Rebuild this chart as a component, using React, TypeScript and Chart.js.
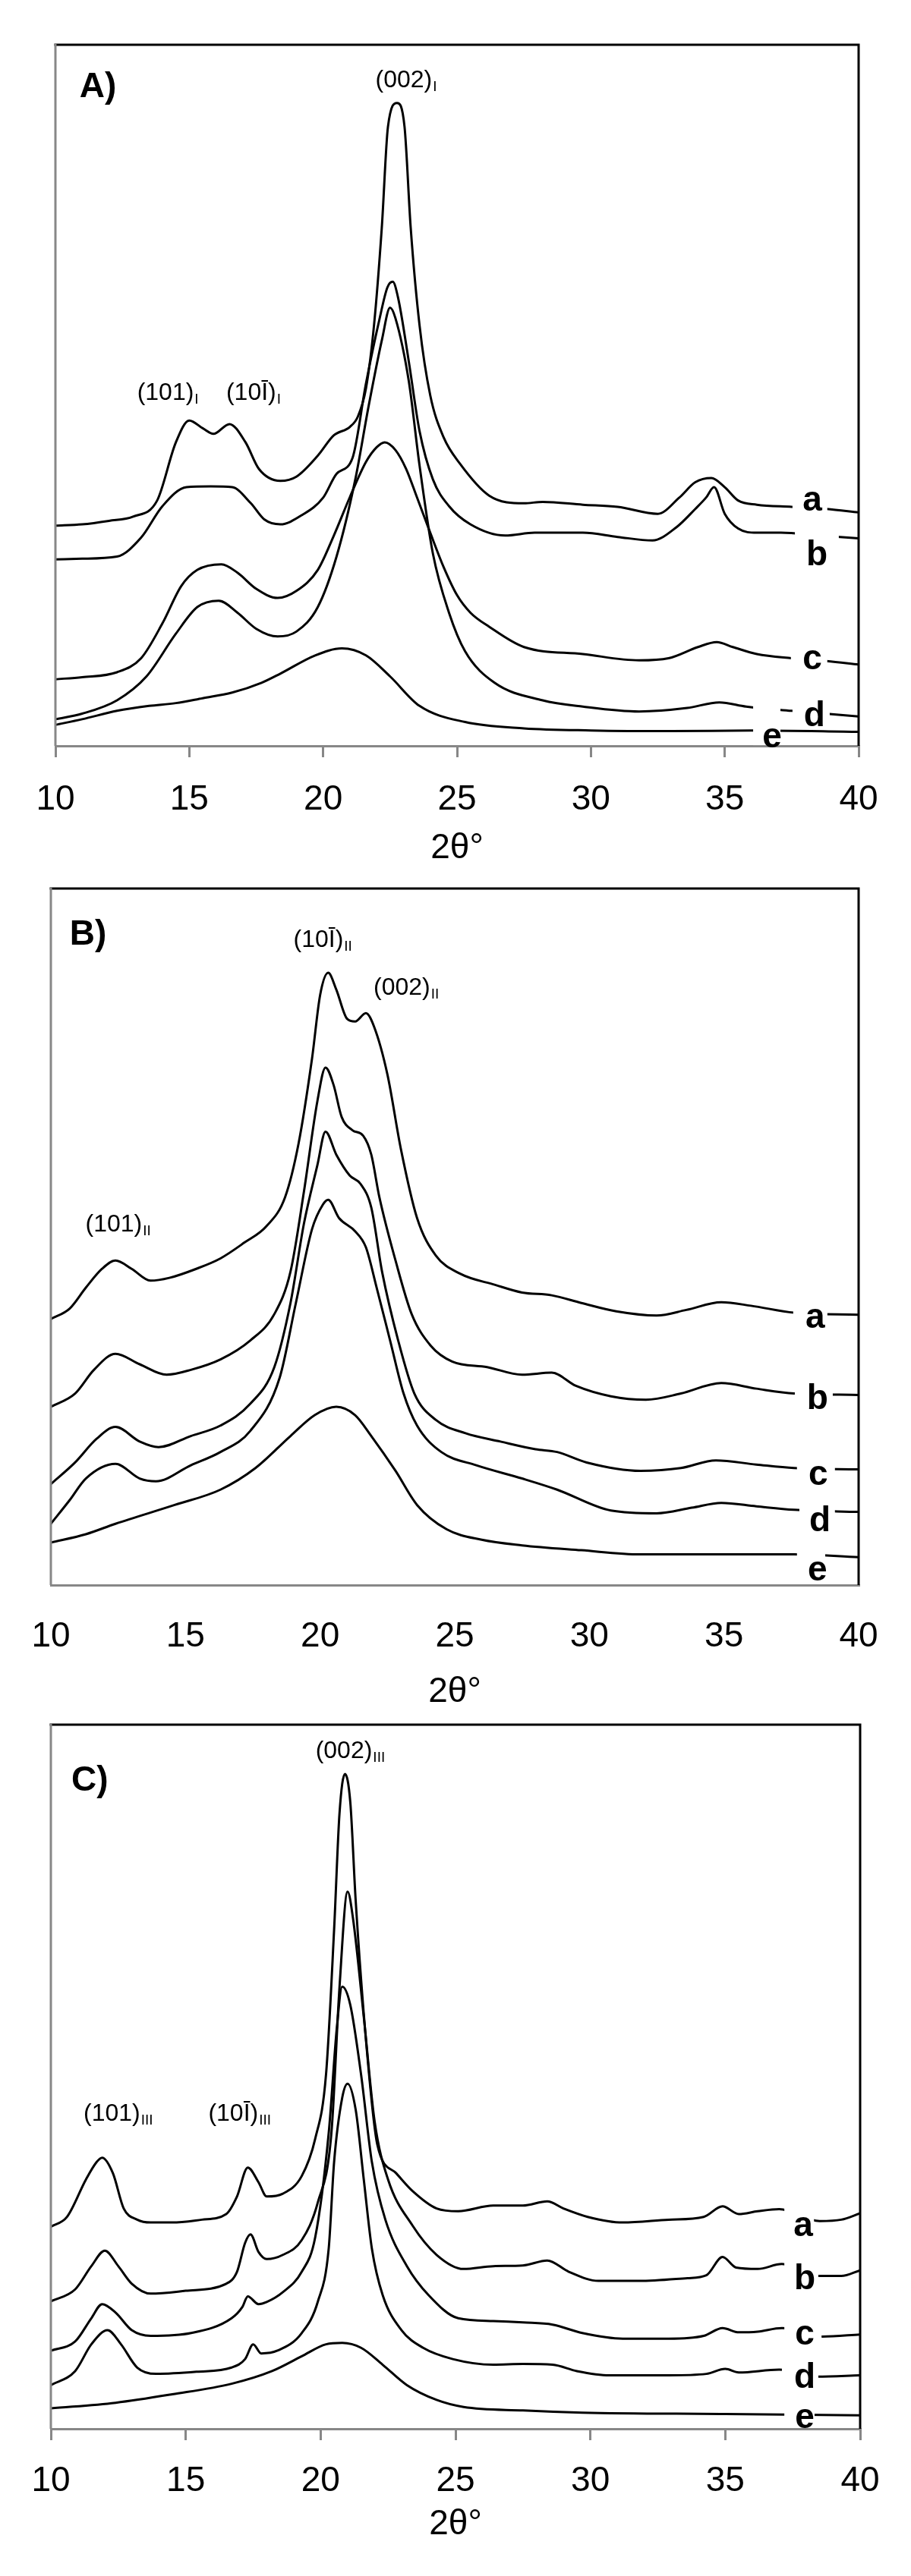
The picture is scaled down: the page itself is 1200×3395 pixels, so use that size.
import React, { useEffect, useRef } from "react";
import { Chart, registerables } from "chart.js";

Chart.register(...registerables);

// ---------- shared ----------
const X_TICKS = [10, 15, 20, 25, 30, 35, 40];
const SERIES_NAMES = ["a", "b", "c", "d", "e"];
const X_TITLE = "2θ°";

type Pt = [number, number];

// ---------- Panel A (cellulose I) ----------
const A_a: Pt[] = [[10,31.4],[11,31.6],[12,32.1],[12.9,32.7],[13.8,35],[14.5,43.3],[15,46.4],[15.5,45.3],[15.9,44.5],[16.5,45.9],[17.1,43.3],[17.6,39.5],[18.4,37.8],[19,38.4],[19.8,41.4],[20.4,44.3],[21,45.5],[21.3,47],[21.6,51],[21.9,60],[22.19,73.9],[22.42,88.3],[22.76,91.7],[23.04,88.3],[23.27,73.9],[23.6,60],[24,50],[24.5,44],[25.1,40.3],[26.2,35.7],[27.5,34.6],[28.2,34.8],[29.7,34.4],[31,34.1],[32.5,33.1],[33.3,35.4],[33.9,37.6],[34.5,38.2],[35,36.9],[35.5,35],[36.2,34.4],[37.5,34.1],[38.8,33.8],[40,33.3]];
const A_b: Pt[] = [[10,26.6],[11,26.7],[12.3,27],[13.2,29.7],[14,34.2],[14.9,36.9],[15.8,37],[16.6,36.9],[17.3,34.6],[17.8,32.3],[18.4,31.6],[19.2,32.9],[20,35.4],[20.5,38.8],[21.1,41.1],[21.6,51.7],[22.1,60.8],[22.4,65.4],[22.6,66.2],[22.8,63.9],[23.2,54.8],[23.6,44.9],[24.1,38],[24.7,34.2],[25.5,31.6],[26.8,30],[27.9,30.4],[29.7,30.4],[31,29.8],[32.3,29.3],[33.2,31.2],[33.9,33.8],[34.3,35.4],[34.6,36.9],[35,33.1],[35.5,31],[36.2,30.4],[37.1,30.4],[38.5,30],[40,29.6]];
const A_c: Pt[] = [[10,9.5],[11,9.8],[12.3,10.5],[13.2,12.5],[14,17.5],[14.7,22.8],[15.3,25.1],[16.2,25.9],[16.8,24.7],[17.5,22.4],[18.3,21.1],[19,22.1],[19.8,25.1],[20.4,30],[21,35.5],[21.6,40.5],[22,42.6],[22.3,43.3],[22.7,42.2],[23.1,39.5],[23.5,35.5],[24,30.4],[24.5,25.5],[25,21.5],[25.5,19],[26.2,17],[27.5,14.1],[29.7,13.1],[31.8,12.2],[32.9,12.5],[34,14.1],[34.7,14.8],[35.3,14.1],[36.2,13.1],[37.5,12.5],[38.8,12.1],[40,11.6]];
const A_d: Pt[] = [[10,3.8],[11,4.6],[12.3,6.5],[13.4,9.9],[14.5,16],[15.3,19.8],[16.1,20.7],[16.8,19],[17.5,16.7],[18.3,15.6],[19,16.3],[19.8,19.8],[20.5,27],[21.2,38],[21.7,48.5],[22.2,58],[22.5,62.5],[22.7,61],[23.2,52],[23.6,40],[24.1,27.4],[24.7,19],[25.3,13.5],[26.4,9],[28.2,6.5],[29.7,5.6],[31.8,4.9],[33.6,5.4],[34.8,6.2],[35.8,5.6],[37.5,5],[40,4.2]];
const A_e: Pt[] = [[10,3],[11,3.8],[12.3,5],[13.5,5.7],[14.5,6.1],[15.5,6.8],[16.6,7.6],[17.7,9],[18.4,10.3],[19.7,12.9],[20.7,13.9],[21.6,12.9],[22.5,9.9],[23.6,5.7],[25.3,3.4],[27.5,2.5],[30,2.2],[33,2.1],[36,2.2],[40,2]];

// ---------- Panel B (cellulose II) ----------
const B_a: Pt[] = [[10,38.2],[10.7,39.7],[11.3,42.7],[11.9,45.4],[12.4,46.6],[13,45.4],[13.7,43.7],[14.4,44.1],[15.4,45.4],[16.3,46.9],[17.2,49.2],[18,51.5],[18.7,55.7],[19.2,63.4],[19.7,75.6],[20,84.7],[20.3,87.9],[20.6,85.5],[21,81.3],[21.3,80.9],[21.7,82.1],[22,80.2],[22.5,73.3],[23,62.6],[23.6,52.7],[24.3,47.3],[25.2,44.7],[26.5,43.1],[27.5,42],[28.6,41.6],[29.7,40.5],[31,39.3],[32.5,38.7],[33.6,39.5],[34.9,40.6],[36,40.1],[37.6,39.1],[40,38.8]];
const B_b: Pt[] = [[10,25.6],[10.9,27.5],[11.6,30.9],[12.4,33.2],[13.3,31.7],[14.3,30.2],[15.2,30.9],[16.3,32.4],[17.4,35.1],[18.3,38.9],[18.9,45],[19.4,56.5],[19.9,69.5],[20.2,74.3],[20.5,71.8],[20.8,67.2],[21.2,65.3],[21.6,64.5],[21.9,61.8],[22.2,55.7],[22.8,46.6],[23.4,38.9],[24.1,34.4],[24.9,32.1],[26.2,31.3],[27.5,30.2],[28.6,30.5],[29.5,28.6],[30.8,27.1],[32.1,26.6],[33.4,27.5],[34.9,29],[36.2,28.2],[37.6,27.5],[40,27.3]];
const B_c: Pt[] = [[10,14.5],[10.9,17.6],[11.7,21],[12.4,22.7],[13.3,20.6],[14,19.8],[15.2,21.4],[16.3,22.9],[17.4,26],[18.3,31.3],[18.9,40.5],[19.4,51.9],[19.9,60.3],[20.2,65.1],[20.6,61.8],[21.1,58.8],[21.5,57.6],[21.9,54.2],[22.3,45],[22.9,35.1],[23.5,27.5],[24.3,23.7],[25.4,21.8],[26.7,20.6],[28,19.5],[28.8,19.1],[29.9,17.6],[31.9,16.4],[33.4,16.8],[34.7,17.9],[36.2,17.3],[37.6,16.8],[40,16.6]];
const B_d: Pt[] = [[10,8.8],[10.7,12.2],[11.3,15.3],[12.4,17.4],[13.3,15.3],[13.9,14.9],[15.2,17.2],[16.3,19.1],[17.4,22.1],[18.5,29.8],[19.1,40.5],[19.7,51.1],[20.1,54.6],[20.3,55.3],[20.7,52.7],[21.3,50.8],[21.7,48.5],[22.1,42.7],[22.6,35.1],[23.1,27.5],[23.6,22.9],[24.5,19.1],[25.8,17.2],[27.5,15.3],[28.8,13.7],[30.8,10.7],[32.5,10.3],[33.8,11.1],[34.9,11.8],[36.2,11.3],[37.6,10.8],[40,10.5]];
const B_e: Pt[] = [[10,6.1],[11.3,7.3],[12.4,8.8],[14.6,11.5],[16.3,13.7],[17.6,16.8],[18.9,21.4],[19.8,24.4],[20.6,25.6],[21.3,24.4],[21.9,21.4],[22.8,16.4],[23.6,11.5],[24.7,8],[26,6.5],[27.5,5.7],[29.7,5],[31.9,4.4],[37.6,4.4],[40,4]];

// ---------- Panel C (cellulose III) ----------
const C_a: Pt[] = [[10,28.7],[10.6,30.1],[11.3,35.4],[11.7,37.9],[11.9,38.5],[12.3,36.3],[12.7,31.3],[13.2,29.7],[13.7,29.3],[14.5,29.3],[15.6,29.7],[16.5,30.5],[16.9,33],[17.3,37.1],[17.7,35],[18,33],[18.6,33.4],[19.3,35.9],[19.8,41.2],[20.2,50.3],[20.5,70.9],[20.7,87.4],[20.9,93],[21.1,89],[21.3,75],[21.7,54.4],[22.1,40.4],[22.8,36.3],[23.4,33.8],[24.3,31.3],[25.1,30.9],[26.4,31.7],[27.5,31.7],[28.4,32.3],[29,31.3],[29.9,30.1],[31.2,29.3],[32.9,29.7],[34.2,30.1],[34.9,31.6],[35.5,30.5],[36.2,30.9],[37,31.2],[38.5,29.5],[39.3,29.7],[40,30.6]];
const C_b: Pt[] = [[10,18.1],[10.9,19.8],[11.5,23.1],[12,25.3],[12.5,23.1],[13,20.6],[13.7,19.2],[15,19.6],[16.5,20.6],[16.9,22.3],[17.2,26.4],[17.4,27.6],[17.7,25.1],[18,24.1],[18.6,24.7],[19.3,26.8],[19.9,32.2],[20.4,42],[20.7,62.7],[21,76.3],[21.2,72.5],[21.6,58.5],[22,43.7],[22.5,35.4],[23.4,28.9],[24.3,24.7],[25.3,22.7],[26.4,23.1],[27.5,23.2],[28.4,23.9],[29.2,22.3],[30.3,21],[31.8,21],[33.6,21.4],[34.3,21.8],[34.9,24.4],[35.4,22.9],[36.2,22.7],[37.1,23.4],[38.4,21.7],[39.3,21.7],[40,22.5]];
const C_c: Pt[] = [[10,11.1],[10.9,12.4],[11.5,15.7],[11.9,17.7],[12.4,16.5],[13,14],[13.7,13.2],[15.2,13.6],[16.7,15.7],[17.1,17.3],[17.3,18.8],[17.7,17.7],[18,18],[18.6,19.4],[19.3,22.3],[19.8,27.2],[20.3,42],[20.6,56.9],[20.8,62.8],[21.1,60.2],[21.5,50.3],[21.9,37.9],[22.4,29.7],[23.2,23.1],[24,19],[25.1,15.7],[26.4,15.3],[27.5,15.1],[28.6,14.8],[29.7,13.6],[31.2,12.8],[32.9,12.8],[34.2,13.2],[34.9,14.3],[35.5,13.7],[36.2,13.8],[37.1,14.3],[38.6,13.1],[40,13.4]];
const C_d: Pt[] = [[10,6.2],[10.9,8.2],[11.5,12],[12.1,14],[12.6,12],[13.2,8.7],[13.9,7.8],[15.4,8.1],[16.7,8.7],[17.2,9.9],[17.5,12],[17.8,10.7],[18.4,11.1],[19.3,13.6],[19.9,18.1],[20.3,25.6],[20.5,37.9],[20.8,47],[21,49],[21.3,45.3],[21.6,35.4],[21.9,25.6],[22.3,19],[23,14],[23.8,11.5],[24.9,9.9],[26.4,9.1],[27.5,9.2],[28.6,9.1],[29.5,8.2],[30.7,7.6],[32.9,7.6],[34.3,7.8],[35,8.5],[35.5,8],[37,8.4],[38.4,7.4],[40,7.6]];
const C_e: Pt[] = [[10,2.9],[12.4,3.7],[14.5,4.9],[16.7,6.4],[18.2,8.2],[19.3,10.3],[20.2,12],[20.8,12.2],[21.5,11.5],[22.3,9.1],[23.2,6.2],[24.3,4.1],[25.3,3.1],[27.5,2.6],[29.7,2.3],[35,2.1],[40,1.9]];

// ---------- annotations (data coordinates) ----------
type Peak = { main: string; sub: string; x: number; y: number };
type SLabel = { text: string; x: number; y: number; x0: number; x1: number; y0: number; y1: number };
type Panel = {
  letter: string; letterX: number; letterY: number;
  series: Pt[][]; peaks: Peak[]; labels: SLabel[];
  top: number; height: number; padL: number; padR: number; padT: number; areaBottom: number;
  ticks: boolean; tickPad: number; titlePad: number;
};

const A_PEAKS: Peak[] = [
  { main: "(002)", sub: "I", x: 23.1, y: 93.9 },
  { main: "(101)", sub: "I", x: 14.2, y: 49.3 },
  { main: "(10Ī)", sub: "I", x: 17.4, y: 49.3 },
];
const B_PEAKS: Peak[] = [
  { main: "(10Ī)", sub: "II", x: 20.1, y: 91.6 },
  { main: "(002)", sub: "II", x: 23.2, y: 84.7 },
  { main: "(101)", sub: "II", x: 12.5, y: 50.8 },
];
const C_PEAKS: Peak[] = [
  { main: "(002)", sub: "III", x: 21.1, y: 95.3 },
  { main: "(101)", sub: "III", x: 12.5, y: 43.7 },
  { main: "(10Ī)", sub: "III", x: 17.0, y: 43.7 },
];

const A_LABELS: SLabel[] = [
  { text: "a", x: 38.27, y: 33.5, x0: 37.53, x1: 38.83, y0: 37.1, y1: 32.4 },
  { text: "b", x: 38.44, y: 25.8, x0: 37.62, x1: 39.26, y0: 31.2, y1: 25.0 },
  { text: "c", x: 38.27, y: 10.9, x0: 37.47, x1: 38.83, y0: 14.6, y1: 10.3 },
  { text: "d", x: 38.35, y: 2.8, x0: 37.53, x1: 38.92, y0: 6.8, y1: 2.7 },
  { text: "e", x: 36.77, y: -0.2, x0: 36.06, x1: 37.08, y0: 6.3, y1: 0.1 },
];
const B_LABELS: SLabel[] = [
  { text: "a", x: 38.39, y: 36.9, x0: 37.57, x1: 38.84, y0: 40.7, y1: 36.4 },
  { text: "b", x: 38.47, y: 25.3, x0: 37.63, x1: 39.04, y0: 29.5, y1: 24.9 },
  { text: "c", x: 38.5, y: 14.4, x0: 37.71, x1: 39.12, y0: 17.9, y1: 13.8 },
  { text: "d", x: 38.56, y: 7.7, x0: 37.8, x1: 39.12, y0: 11.7, y1: 7.5 },
  { text: "e", x: 38.47, y: 0.65, x0: 37.71, x1: 38.76, y0: 5.0, y1: 0.3 },
];
const C_LABELS: SLabel[] = [
  { text: "a", x: 37.89, y: 27.4, x0: 37.19, x1: 38.29, y0: 31.9, y1: 26.8 },
  { text: "b", x: 37.95, y: 19.8, x0: 37.19, x1: 38.45, y0: 24.4, y1: 19.5 },
  { text: "c", x: 37.95, y: 12.0, x0: 37.19, x1: 38.57, y0: 15.2, y1: 11.6 },
  { text: "d", x: 37.95, y: 5.8, x0: 37.1, x1: 38.45, y0: 9.6, y1: 5.5 },
  { text: "e", x: 37.95, y: 0.1, x0: 37.19, x1: 38.31, y0: 3.1, y1: 0.2 },
];

const PANELS: Panel[] = [
  { letter: "A)", letterX: 10.9, letterY: 92.5, series: [A_a, A_b, A_c, A_d, A_e], peaks: A_PEAKS, labels: A_LABELS,
    top: 0, height: 1150, padL: 73, padR: 69, padT: 59, areaBottom: 983, ticks: true, tickPad: 29, titlePad: 4 },
  { letter: "B)", letterX: 10.7, letterY: 91.9, series: [B_a, B_b, B_c, B_d, B_e], peaks: B_PEAKS, labels: B_LABELS,
    top: 1150, height: 1110, padL: 67, padR: 69, padT: 21, areaBottom: 939, ticks: false, tickPad: 26, titlePad: 2 },
  { letter: "C)", letterX: 10.76, letterY: 90.6, series: [C_a, C_b, C_c, C_d, C_e], peaks: C_PEAKS, labels: C_LABELS,
    top: 2260, height: 1135, padL: 67, padR: 67, padT: 13, areaBottom: 941, ticks: true, tickPad: 27, titlePad: 40 },
];

const FONT = '"Liberation Sans", Arial, Helvetica, sans-serif';
const AXIS_GREY = "#878787";

function makeDecor(p: Panel) {
  return {
    id: "decor",
    afterDatasetsDraw(chart: any) {
      const { ctx, chartArea: ca } = chart;
      const xs = chart.scales.x, ys = chart.scales.y;
      ctx.save();
      // series labels with white boxes
      for (const L of p.labels) {
        const x0 = xs.getPixelForValue(L.x0), x1 = xs.getPixelForValue(L.x1);
        const y0 = ys.getPixelForValue(L.y0), y1 = ys.getPixelForValue(L.y1);
        ctx.fillStyle = "#ffffff";
        ctx.fillRect(x0, y0, x1 - x0, y1 - y0);
        ctx.fillStyle = "#000000";
        ctx.font = `bold 46px ${FONT}`;
        ctx.textAlign = "center";
        ctx.textBaseline = "alphabetic";
        ctx.fillText(L.text, xs.getPixelForValue(L.x), ys.getPixelForValue(L.y));
      }
      // peak annotations with subscripts
      for (const P of p.peaks) {
        const mainFont = `32px ${FONT}`;
        const subFont = `19px ${FONT}`;
        ctx.font = mainFont;
        const w1 = ctx.measureText(P.main).width;
        ctx.font = subFont;
        const w2 = ctx.measureText(P.sub).width;
        const cx = xs.getPixelForValue(P.x);
        const by = ys.getPixelForValue(P.y);
        const sx = cx - (w1 + w2 + 1) / 2;
        ctx.fillStyle = "#000000";
        ctx.textAlign = "left";
        ctx.textBaseline = "alphabetic";
        ctx.font = mainFont;
        ctx.fillText(P.main, sx, by);
        ctx.font = subFont;
        ctx.fillText(P.sub, sx + w1 + 1, by + 5);
      }
      // panel letter
      ctx.font = `bold 46px ${FONT}`;
      ctx.textAlign = "left";
      ctx.textBaseline = "alphabetic";
      ctx.fillStyle = "#000000";
      ctx.fillText(p.letter, xs.getPixelForValue(p.letterX), ys.getPixelForValue(p.letterY));
      // frame: black top/right, grey left
      ctx.lineWidth = 3;
      ctx.strokeStyle = "#000000";
      ctx.beginPath();
      ctx.moveTo(ca.left - 1.5, ca.top);
      ctx.lineTo(ca.right, ca.top);
      ctx.lineTo(ca.right, ca.bottom);
      ctx.stroke();
      ctx.strokeStyle = AXIS_GREY;
      ctx.beginPath();
      ctx.moveTo(ca.left, ca.top - 1.5);
      ctx.lineTo(ca.left, ca.bottom);
      ctx.stroke();
      ctx.restore();
    },
  };
}

function PanelChart({ p }: { p: Panel }) {
  const ref = useRef<HTMLCanvasElement | null>(null);
  useEffect(() => {
    if (!ref.current) return;
    const scaleHeight = p.height - p.areaBottom;
    const chart = new Chart(ref.current, {
      type: "line",
      data: {
        datasets: p.series.map((s, i) => ({
          label: SERIES_NAMES[i],
          data: s.map(([x, y]) => ({ x, y })),
          borderColor: "#000000",
          borderWidth: 3,
          pointRadius: 0,
          fill: false,
          cubicInterpolationMode: "monotone" as const,
        })),
      },
      options: {
        animation: false,
        responsive: false,
        devicePixelRatio: 1,
        layout: { padding: { left: p.padL, right: p.padR, top: p.padT, bottom: 0 } },
        plugins: { legend: { display: false }, tooltip: { enabled: false } },
        scales: {
          x: {
            type: "linear",
            min: 10,
            max: 40,
            afterBuildTicks: (s: any) => { s.ticks = X_TICKS.map((v) => ({ value: v })); },
            afterFit: (s: any) => { s.height = scaleHeight; },
            ticks: { font: { family: FONT, size: 46 }, color: "#000000", padding: p.tickPad, maxRotation: 0, autoSkip: false },
            grid: {
              display: true,
              drawOnChartArea: false,
              tickLength: 15,
              lineWidth: 3,
              color: AXIS_GREY,
              tickColor: p.ticks ? AXIS_GREY : "rgba(0,0,0,0)",
            },
            border: { display: true, color: AXIS_GREY, width: 3 },
            title: { display: true, text: X_TITLE, font: { family: FONT, size: 46 }, color: "#000000", padding: { top: 0, bottom: p.titlePad } },
          },
          y: { type: "linear", min: 0, max: 100, display: false },
        },
      },
      plugins: [makeDecor(p)],
    } as any);
    return () => chart.destroy();
  }, [p]);
  return (
    <canvas
      ref={ref}
      width={1200}
      height={p.height}
      style={{ position: "absolute", left: 0, top: p.top, width: 1200, height: p.height, display: "block" }}
    />
  );
}

export default function App() {
  return (
    <div style={{ position: "absolute", left: 0, top: 0, width: 1200, height: 3395, background: "#ffffff" }}>
      {PANELS.map((p) => (
        <PanelChart key={p.letter} p={p} />
      ))}
    </div>
  );
}
